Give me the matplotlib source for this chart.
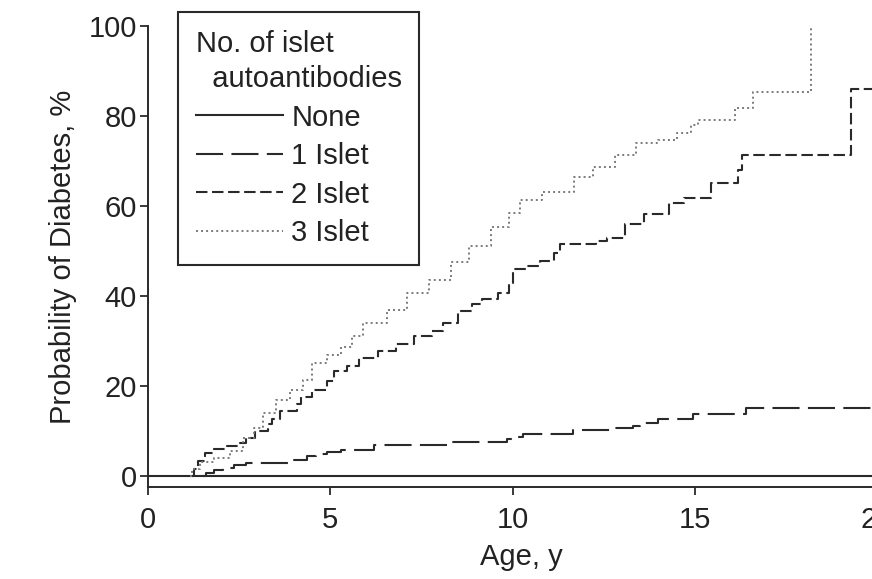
import matplotlib
matplotlib.use("Agg")
import matplotlib.pyplot as plt
from matplotlib.lines import Line2D

plt.rcParams['font.family'] = ['Liberation Sans', 'DejaVu Sans']

# ---- data ----
none_x = [0.0, 20.5]
none_y = [0.0, 0.0]

one_x = [1.5, 1.6, 1.8, 2.05, 2.35, 2.7, 3.9, 4.35, 4.6, 4.9, 5.3, 6.2, 8.2, 9.85,
         10.0, 10.3, 11.66, 12.76, 13.3, 13.5, 14.0, 14.95, 16.4, 20.5]
one_y = [0.0, 0.7, 1.3, 1.8, 2.5, 2.9, 3.6, 4.4, 4.9, 5.3, 5.8, 6.9, 7.6, 8.2,
         8.7, 9.3, 10.2, 10.7, 11.1, 11.8, 12.7, 13.8, 15.1, 15.1]

two_x = [1.2, 1.25, 1.37, 1.56, 1.78, 2.17, 2.47, 2.7, 2.93, 3.3, 3.4, 3.62, 4.1, 4.2,
         4.5, 4.9, 5.1, 5.45, 5.8, 6.3, 6.8, 7.3, 7.8, 8.1, 8.5, 8.9, 9.15, 9.6, 9.9,
         10.0, 10.4, 10.75, 11.15, 11.3, 12.3, 12.6, 13.1, 13.6, 14.3, 14.7, 15.45,
         16.2, 16.3, 19.3, 20.5]
two_y = [0.0, 1.5, 3.3, 5.0, 6.0, 6.7, 7.3, 8.5, 10.0, 11.6, 12.7, 14.4, 16.0, 17.4,
         19.0, 21.0, 23.4, 24.5, 26.2, 27.8, 29.3, 31.0, 32.2, 34.0, 36.7, 38.2, 39.3,
         40.7, 42.8, 46.0, 46.7, 47.8, 49.5, 51.5, 52.3, 52.8, 56.0, 58.3, 60.6, 61.7,
         65.0, 68.0, 71.3, 86.0, 86.0]

three_x = [1.15, 1.2, 1.43, 1.8, 2.25, 2.6, 2.9, 3.15, 3.5, 3.9, 4.25, 4.5, 4.9, 5.3,
           5.6, 5.9, 6.55, 7.1, 7.7, 8.3, 8.8, 9.4, 9.9, 10.2, 10.8, 11.7, 12.2, 12.8,
           13.4, 14.0, 14.5, 14.9, 15.1, 16.1, 16.6, 18.2]
three_y = [0.0, 1.5, 3.0, 4.0, 5.6, 8.5, 10.7, 14.0, 16.9, 19.0, 21.3, 25.0, 26.9, 28.7,
           31.0, 34.0, 36.9, 40.7, 43.6, 47.6, 51.0, 55.3, 58.4, 61.3, 63.1, 66.4, 68.7,
           71.3, 74.0, 74.7, 76.2, 78.0, 79.0, 81.8, 85.3, 100.0]

x_ticks = [0, 5, 10, 15, 20]
y_ticks = [0, 20, 40, 60, 80, 100]
labels = ["None", "1 Islet", "2 Islet", "3 Islet"]

# ---- figure ----
W, H = 872, 579
fig = plt.figure(figsize=(W / 100, H / 100), dpi=100)
x0_px, x_scale = 148, 36.45
y_top_px, y_bot_px = 26, 487
xmax = 20.5
ax = fig.add_axes([x0_px / W, 1 - y_bot_px / H,
                   xmax * x_scale / W, (y_bot_px - y_top_px) / H])

dark = '#2a2a2a'
txt = '#222222'
fs = 21
ax.plot(none_x, none_y, color=dark, lw=1.5, drawstyle='steps-post', solid_capstyle='butt')
ax.plot(one_x, one_y, color=dark, lw=1.5, drawstyle='steps-post', linestyle=(0, (13, 4)))
ax.plot(two_x, two_y, color=dark, lw=1.5, drawstyle='steps-post', linestyle=(0, (5.5, 2.2)))
ax.plot(three_x, three_y, color='#7a7a7a', lw=1.4, drawstyle='steps-post', linestyle=(0, (1, 1.6)))

ax.set_xlim(0, xmax)
ax.set_ylim(-2.5, 100)
ax.set_xticks(x_ticks)
ax.set_yticks(y_ticks)
for s in ['top', 'right']:
    ax.spines[s].set_visible(False)
for s in ['left', 'bottom']:
    ax.spines[s].set_color(dark)
    ax.spines[s].set_linewidth(1.4)
ax.tick_params(axis='both', colors=dark, labelcolor=txt, labelsize=fs,
               length=6, width=1.3, direction='out')
ax.tick_params(axis='y', pad=2)
ax.tick_params(axis='x', pad=8)
ax.set_xlabel("Age, y", fontsize=fs, color=txt, labelpad=6)
ax.set_ylabel("Probability of Diabetes, %", fontsize=fs, color=txt, labelpad=8)

handles = [
    Line2D([], [], color=dark, lw=1.5),
    Line2D([], [], color=dark, lw=1.5, linestyle=(0, (13, 4))),
    Line2D([], [], color=dark, lw=1.5, linestyle=(0, (5.5, 2.2))),
    Line2D([], [], color='#7a7a7a', lw=1.4, linestyle=(0, (1, 1.6))),
]
leg = ax.legend(handles, labels, title="No. of islet\n  autoantibodies",
                loc='upper left', bbox_to_anchor=(178 / W, 1 - 12 / H),
                bbox_transform=fig.transFigure, fontsize=fs, title_fontsize=fs,
                frameon=True, fancybox=False, shadow=False, framealpha=1,
                handlelength=3.0, handletextpad=0.28, labelspacing=0.36,
                borderpad=0.6, borderaxespad=0, alignment='left')
leg.get_frame().set_edgecolor(dark)
leg.get_frame().set_linewidth(1.5)
for t in leg.get_texts():
    t.set_color(txt)
leg.get_title().set_color(txt)
leg.get_title().set_linespacing(1.35)

fig.savefig("out.png", dpi=100)
